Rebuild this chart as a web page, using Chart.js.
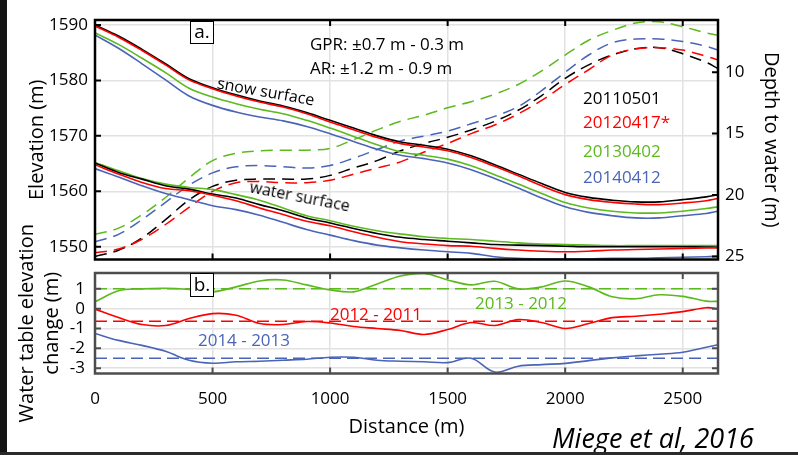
<!DOCTYPE html>
<html>
<head>
<meta charset="utf-8">
<script src="https://cdn.jsdelivr.net/npm/chart.js@4.4.1/dist/chart.umd.min.js"></script>
<style>
  html, body { margin: 0; padding: 0; background: #fff; }
  #wrap { position: relative; width: 798px; height: 455px; overflow: hidden; background: #fff; font-family: "Open Sans", sans-serif; }
  canvas { position: absolute; left: 0; }
  .t { position: absolute; white-space: nowrap; transform: translate(-50%, -50%); line-height: 1; }
  .l { position: absolute; white-space: nowrap; transform: translateY(-50%); line-height: 1; }
  .box { position: absolute; box-sizing: border-box; border: 1.5px solid #000; background: #fff; font-size: 19px; text-align: center; }
</style>
</head>
<body>
<div id="wrap">
  <canvas id="top" width="798" height="262" style="top:0"></canvas>
  <canvas id="bottom" width="798" height="253" style="top:200px"></canvas>

  <div class="box" style="left:190px;top:21px;width:24px;height:23px;line-height:19px;">a.</div>
  <div class="box" style="left:190px;top:273px;width:24px;height:24px;line-height:20px;">b.</div>

  <div class="l" style="left:310px;top:43px;font-size:17px;">GPR: ±0.7 m - 0.3 m</div>
  <div class="l" style="left:310px;top:67px;font-size:17px;">AR: ±1.2 m - 0.9 m</div>

  <div class="l" style="left:583px;top:97px;font-size:17px;color:#000;">20110501</div>
  <div class="l" style="left:583px;top:121px;font-size:17px;color:#ff0000;">20120417*</div>
  <div class="l" style="left:583px;top:150px;font-size:17px;color:#5cb91e;">20130402</div>
  <div class="l" style="left:583px;top:176px;font-size:17px;color:#4a64b8;">20140412</div>

  <div class="t" style="left:266px;top:91px;font-size:16px;transform:translate(-50%,-50%) rotate(10deg);">snow surface</div>
  <div class="t" style="left:300px;top:196px;font-size:16px;transform:translate(-50%,-50%) rotate(11deg);">water surface</div>

  <div class="t" style="left:376px;top:313px;font-size:17px;color:#ff0000;">2012 - 2011</div>
  <div class="t" style="left:521px;top:302px;font-size:17px;color:#5cb91e;">2013 - 2012</div>
  <div class="t" style="left:244px;top:339px;font-size:17px;color:#4a64b8;">2014 - 2013</div>

  <div class="t" style="left:653px;top:437px;font-size:27px;font-style:italic;">Miege et al, 2016</div>

  <div style="position:absolute;left:0;top:0;width:7px;height:455px;background:#141414;"></div>
  <div style="position:absolute;left:0;top:452px;width:798px;height:3px;background:#2a2a2a;"></div>
</div>

<script>
// distance along the profile (m)
const distance = [0, 100, 200, 300, 400, 500, 600, 700, 800, 900, 1000, 1100, 1200, 1300,
  1400, 1500, 1600, 1700, 1800, 1900, 2000, 2100, 2200, 2300, 2400, 2500, 2600, 2650];

const surveys = ["20110501", "20120417*", "20130402", "20140412"];
const colors = ["#000000", "#ff0000", "#5cb91e", "#4a64b8"];

// snow surface elevation (m)
const snow2011 = [1590.0, 1588.0, 1585.6, 1583.0, 1580.3, 1578.7, 1577.4, 1576.3, 1575.4, 1574.2, 1572.8, 1571.4, 1570.0, 1568.9,
  1568.3, 1567.6, 1566.4, 1564.8, 1563.1, 1561.4, 1559.8, 1558.9, 1558.4, 1558.1, 1558.1, 1558.5, 1559.0, 1559.4];
const snow2012 = [1589.8, 1587.8, 1585.4, 1582.8, 1580.1, 1578.5, 1577.2, 1576.1, 1575.2, 1574.0, 1572.5, 1571.1, 1569.7, 1568.6,
  1568.0, 1567.3, 1566.1, 1564.5, 1562.8, 1561.0, 1559.4, 1558.5, 1558.0, 1557.7, 1557.6, 1557.9, 1558.3, 1558.7];
const snow2013 = [1588.6, 1586.5, 1584.0, 1581.4, 1578.6, 1577.0, 1575.8, 1574.8, 1574.0, 1572.8, 1571.4, 1569.9, 1568.4, 1567.1,
  1566.5, 1565.8, 1564.6, 1563.0, 1561.3, 1559.6, 1558.0, 1557.0, 1556.4, 1556.1, 1556.1, 1556.4, 1556.9, 1557.2];
const snow2014 = [1588.2, 1585.8, 1583.0, 1580.1, 1577.2, 1575.5, 1574.3, 1573.4, 1572.7, 1571.7, 1570.4, 1569.0, 1567.6, 1566.5,
  1565.9, 1565.1, 1563.9, 1562.3, 1560.6, 1558.8, 1557.2, 1556.2, 1555.6, 1555.2, 1555.2, 1555.6, 1556.0, 1556.4];

// water surface elevation (m)
const water2011 = [1565.1, 1563.4, 1562.2, 1561.0, 1560.4, 1559.5, 1558.8, 1557.6, 1556.5, 1555.2, 1554.3, 1553.3, 1552.4, 1551.7,
  1551.3, 1551.0, 1550.7, 1550.4, 1550.3, 1550.2, 1550.1, 1550.0, 1550.0, 1550.0, 1550.0, 1550.0, 1549.95, 1549.9];
const water2012 = [1564.8, 1563.1, 1561.6, 1560.5, 1560.1, 1559.3, 1558.3, 1557.0, 1555.8, 1554.6, 1553.8, 1552.7, 1551.7, 1550.9,
  1550.5, 1550.2, 1550.1, 1549.7, 1549.4, 1549.2, 1549.1, 1549.2, 1549.4, 1549.5, 1549.6, 1549.7, 1549.8, 1549.8];
const water2013 = [1565.2, 1563.7, 1562.3, 1561.3, 1560.7, 1560.3, 1559.4, 1558.4, 1557.0, 1555.6, 1554.7, 1553.7, 1552.9, 1552.3,
  1551.8, 1551.5, 1551.3, 1551.0, 1550.7, 1550.5, 1550.4, 1550.3, 1550.2, 1550.2, 1550.2, 1550.2, 1550.2, 1550.2];
const water2014 = [1564.1, 1562.6, 1561.0, 1559.6, 1558.5, 1557.4, 1556.7, 1555.7, 1554.4, 1553.1, 1552.1, 1551.1, 1550.3, 1549.8,
  1549.4, 1549.1, 1548.8, 1548.2, 1547.9, 1547.8, 1547.8, 1547.8, 1547.9, 1547.9, 1548.0, 1548.1, 1548.2, 1548.3];

// depth to water (m), right axis
const depth2011 = [25.0, 24.5, 23.5, 22.0, 20.4, 19.3, 18.8, 18.7, 18.7, 18.7, 18.4, 17.8, 17.2, 16.4,
  15.8, 15.3, 14.7, 14.0, 13.1, 11.9, 10.5, 9.4, 8.6, 8.1, 8.0, 8.5, 9.2, 9.7];
const depth2012 = [24.7, 24.4, 23.6, 22.4, 21.0, 19.7, 19.0, 18.9, 19.0, 19.0, 18.8, 18.3, 17.8, 17.3,
  16.5, 15.8, 15.0, 14.3, 13.4, 12.3, 11.0, 9.8, 8.6, 8.1, 8.0, 8.2, 8.7, 9.0];
const depth2013 = [23.2, 22.7, 21.6, 20.2, 18.6, 17.2, 16.6, 16.4, 16.35, 16.35, 16.2, 15.5, 14.7, 14.0,
  13.5, 12.9, 12.4, 11.8, 11.0, 9.9, 8.6, 7.4, 6.6, 6.0, 5.9, 6.3, 6.8, 7.0];
const depth2014 = [23.8, 23.2, 22.0, 20.6, 19.2, 18.2, 17.7, 17.6, 17.7, 17.8, 17.6, 17.0, 16.3, 15.6,
  15.2, 14.8, 14.2, 13.6, 12.8, 11.5, 10.0, 8.6, 7.6, 7.3, 7.3, 7.5, 7.9, 8.2];

// water table elevation change (m), panel b
const diffNames = ["2012 - 2011", "2013 - 2012", "2014 - 2013"];
const diffColors = ["#ff0000", "#5cb91e", "#4a64b8"];
const diffMeans = [-0.63, 1.0, -2.5];
const diff1211 = [-0.02, -0.45, -0.8, -0.85, -0.5, -0.25, -0.33, -0.75, -0.8, -0.65, -0.72, -0.9, -1.0, -1.1,
  -1.3, -1.05, -0.7, -0.85, -0.55, -0.7, -1.0, -0.75, -0.45, -0.38, -0.28, -0.15, 0.05, 0.0];
const diff1312 = [0.35, 0.9, 1.0, 1.03, 0.97, 0.85, 1.1, 1.4, 1.45, 1.2, 0.95, 0.85, 1.25, 1.65,
  1.78, 1.45, 1.2, 1.38, 1.0, 1.1, 1.4, 1.1, 0.6, 0.5, 0.7, 0.62, 0.38, 0.37];
const diff1413 = [-1.25, -1.6, -1.85, -2.15, -2.6, -2.75, -2.68, -2.65, -2.6, -2.55, -2.45, -2.45, -2.6, -2.65,
  -2.68, -2.72, -2.5, -3.2, -2.9, -2.82, -2.76, -2.62, -2.48, -2.38, -2.3, -2.2, -1.95, -1.82];

const distTicks = [0, 500, 1000, 1500, 2000, 2500];
const elevTicks = [1550, 1560, 1570, 1580, 1590];
const depthTicks = [10, 15, 20, 25];
const changeTicks = [-3, -2, -1, 0, 1];

const FONT = "'Open Sans', sans-serif";
const GRID = "#e2e2e2";
const pts = (arr) => arr.map((v, i) => ({ x: distance[i], y: v }));
const fixTicks = (list) => (s) => { s.ticks = list.map((v) => ({ value: v })); };

function line(data, color, opts = {}) {
  return Object.assign({
    data: pts(data),
    borderColor: color,
    borderWidth: 1.6,
    pointRadius: 0,
    tension: 0.35,
    fill: false,
  }, opts);
}

// box round the plot area with MATLAB style inward ticks
const frame = {
  id: "frame",
  afterDatasetsDraw(chart, args, opts) {
    const { ctx, chartArea: a, scales } = chart;
    const len = 6;
    ctx.save();
    ctx.strokeStyle = opts.color;
    ctx.lineWidth = 2;
    ctx.beginPath();
    scales.x.ticks.forEach((t) => {
      const px = scales.x.getPixelForValue(t.value);
      ctx.moveTo(px, a.top); ctx.lineTo(px, a.top + len);
      ctx.moveTo(px, a.bottom); ctx.lineTo(px, a.bottom - len);
    });
    opts.left.forEach((id) => scales[id].ticks.forEach((t) => {
      const py = scales[id].getPixelForValue(t.value);
      ctx.moveTo(a.left, py); ctx.lineTo(a.left + len, py);
    }));
    opts.right.forEach((id) => scales[id].ticks.forEach((t) => {
      const py = scales[id].getPixelForValue(t.value);
      ctx.moveTo(a.right, py); ctx.lineTo(a.right - len, py);
    }));
    ctx.stroke();
    ctx.lineWidth = 2.5;
    ctx.strokeRect(a.left, a.top, a.width, a.height);
    ctx.restore();
  },
};

// fixed axis sizes so both panels share the same plot box
const fitV = (w) => (s) => { s.width = w; s.paddingTop = 0; s.paddingBottom = 0; };
const fitH = (h) => (s) => { s.height = h; s.paddingLeft = 0; s.paddingRight = 0; };

const snowSets = [snow2012, snow2011, snow2013, snow2014];
const waterSets = [water2012, water2011, water2013, water2014];
const depthSets = [depth2012, depth2011, depth2013, depth2014];
const order = [1, 0, 2, 3];

const topData = [];
order.forEach((c, k) => topData.push(line(snowSets[k], colors[c], { label: surveys[c] })));
order.forEach((c, k) => topData.push(line(waterSets[k], colors[c], { label: surveys[c] })));
order.forEach((c, k) => topData.push(line(depthSets[k], colors[c], { label: surveys[c], yAxisID: "y2", borderDash: [12, 7], borderWidth: 1.5 })));

new Chart(document.getElementById("top"), {
  type: "line",
  data: { datasets: topData },
  plugins: [frame],
  options: {
    responsive: false,
    animation: false,
    devicePixelRatio: 1,
    layout: { padding: { top: 20, bottom: 2.5, left: 0, right: 0 } },
    plugins: {
      legend: { display: false },
      tooltip: { enabled: false },
      frame: { color: "#000", left: ["y"], right: ["y2"] },
    },
    scales: {
      x: {
        type: "linear", min: 0, max: 2650,
        afterBuildTicks: fixTicks(distTicks),
        ticks: { display: false },
        grid: { color: GRID, lineWidth: 1.5, drawTicks: false },
        border: { display: false },
        afterFit: fitH(0),
      },
      y: {
        position: "left", min: 1547.7, max: 1590.9,
        afterBuildTicks: fixTicks(elevTicks),
        ticks: { color: "#000", padding: 7, font: { family: FONT, size: 17 }, callback: (v) => String(v) },
        grid: { color: GRID, lineWidth: 1.5, drawTicks: false },
        border: { display: false },
        title: { display: true, text: "Elevation (m)", color: "#000", font: { family: FONT, size: 20 }, padding: { top: 25 } },
        afterFit: fitV(95),
      },
      y2: {
        position: "right", reverse: true, min: 5.75, max: 25.25,
        afterBuildTicks: fixTicks(depthTicks),
        ticks: { color: "#000", padding: 7, font: { family: FONT, size: 17 }, callback: (v) => String(v) },
        grid: { display: false, drawTicks: false },
        border: { display: false },
        title: { display: true, text: "Depth to water (m)", color: "#000", font: { family: FONT, size: 20 }, padding: { top: 15 } },
        afterFit: fitV(80),
      },
    },
  },
});

const diffSets = [diff1211, diff1312, diff1413];
const bottomData = [];
diffSets.forEach((d, i) => bottomData.push(line(d, diffColors[i], { label: diffNames[i] })));
diffMeans.forEach((m, i) => bottomData.push({
  label: diffNames[i] + " mean",
  data: [{ x: distance[0], y: m }, { x: distance[distance.length - 1], y: m }],
  borderColor: diffColors[i],
  borderWidth: 1.5,
  borderDash: [12, 6],
  pointRadius: 0,
}));

new Chart(document.getElementById("bottom"), {
  type: "line",
  data: { datasets: bottomData },
  plugins: [frame],
  options: {
    responsive: false,
    animation: false,
    devicePixelRatio: 1,
    layout: { padding: { top: 73, bottom: 0, left: 0, right: 80 } },
    plugins: {
      legend: { display: false },
      tooltip: { enabled: false },
      frame: { color: "#4d4d4d", left: ["y"], right: ["y"] },
    },
    scales: {
      x: {
        type: "linear", min: 0, max: 2650,
        afterBuildTicks: fixTicks(distTicks),
        ticks: { color: "#000", padding: 15, maxRotation: 0, font: { family: FONT, size: 17 }, callback: (v) => String(v) },
        grid: { color: GRID, lineWidth: 1.5, drawTicks: false },
        border: { display: false },
        title: { display: true, text: "Distance (m)", color: "#000", font: { family: FONT, size: 20 }, padding: { bottom: 14 } },
        afterFit: fitH(79.5),
      },
      y: {
        position: "left", min: -3.27, max: 1.8,
        afterBuildTicks: fixTicks(changeTicks),
        ticks: { color: "#000", padding: 10, font: { family: FONT, size: 17 }, callback: (v) => String(v) },
        grid: { color: GRID, lineWidth: 1.5, drawTicks: false },
        border: { display: false },
        title: {
          display: true, text: ["Water table elevation", "change (m)"], color: "#000",
          font: { family: FONT, size: 20, lineHeight: 1.25 }, padding: { top: 14.5 },
        },
        afterFit: fitV(95),
      },
    },
  },
});
</script>
</body>
</html>
